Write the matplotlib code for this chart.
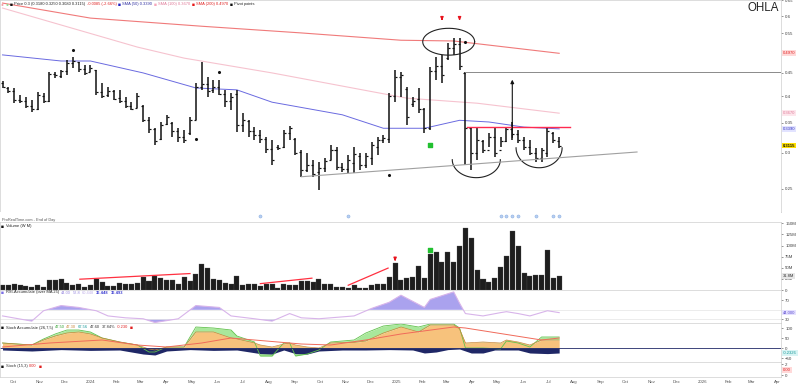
import numpy as np
import pandas as pd
import matplotlib
matplotlib.use("Agg")
import matplotlib.pyplot as plt
import matplotlib.dates as mdates
from matplotlib.ticker import FixedLocator, NullLocator, FuncFormatter

plt.rcParams['font.family'] = ['Liberation Sans', 'DejaVu Sans']

# ---------------- data (weekly bars) ----------------
first_week = "2023-09-18"
n_weeks = 96

open_ = [0.428,0.417,0.410,0.392,0.390,0.380,0.375,0.400,0.390,0.448,
         0.444,0.455,0.472,0.475,0.458,0.452,0.457,0.408,0.402,0.410,
         0.396,0.390,0.380,0.377,0.380,0.355,0.338,0.322,0.347,0.350,
         0.335,0.325,0.332,0.355,0.420,0.425,0.412,0.420,0.405,0.390,
         0.405,0.345,0.352,0.335,0.328,0.322,0.306,0.310,0.310,0.332,
         0.322,0.302,0.275,0.282,0.272,0.278,0.290,0.305,0.280,0.276,
         0.285,0.296,0.282,0.292,0.310,0.320,0.322,0.400,0.440,0.415,
         0.385,0.395,0.375,0.340,0.455,0.465,0.485,0.510,0.520,0.450,
         0.340,0.300,0.318,0.305,0.325,0.305,0.318,0.338,0.330,0.320,
         0.310,0.300,0.292,0.300,0.332,0.318]
high = [0.432,0.419,0.417,0.402,0.398,0.392,0.408,0.406,0.452,0.452,
        0.457,0.480,0.488,0.475,0.468,0.468,0.457,0.427,0.419,0.413,
        0.413,0.398,0.388,0.406,0.382,0.360,0.340,0.351,0.364,0.351,
        0.340,0.337,0.360,0.427,0.475,0.441,0.434,0.434,0.413,0.406,
        0.413,0.367,0.354,0.342,0.337,0.325,0.320,0.312,0.337,0.344,
        0.324,0.305,0.300,0.290,0.287,0.292,0.312,0.309,0.285,0.297,
        0.309,0.300,0.300,0.317,0.325,0.329,0.406,0.457,0.452,0.419,
        0.398,0.417,0.377,0.463,0.488,0.493,0.523,0.537,0.537,0.452,
        0.342,0.342,0.320,0.332,0.342,0.325,0.342,0.351,0.337,0.325,
        0.320,0.308,0.308,0.342,0.334,0.325]
low = [0.417,0.406,0.386,0.386,0.377,0.369,0.373,0.386,0.388,0.438,
       0.438,0.445,0.461,0.452,0.445,0.452,0.402,0.396,0.398,0.392,
       0.386,0.377,0.373,0.377,0.351,0.332,0.312,0.320,0.346,0.325,
       0.317,0.316,0.329,0.354,0.413,0.398,0.406,0.402,0.379,0.373,
       0.334,0.334,0.325,0.320,0.316,0.300,0.282,0.305,0.308,0.320,
       0.297,0.266,0.272,0.266,0.249,0.272,0.290,0.275,0.272,0.271,
       0.271,0.275,0.278,0.282,0.297,0.316,0.316,0.388,0.398,0.346,
       0.379,0.367,0.332,0.337,0.434,0.427,0.480,0.493,0.457,0.282,
       0.275,0.290,0.300,0.309,0.294,0.309,0.317,0.320,0.316,0.305,
       0.297,0.287,0.287,0.294,0.316,0.308]
close = [0.420,0.410,0.392,0.390,0.380,0.374,0.402,0.390,0.448,0.445,
         0.455,0.472,0.478,0.458,0.450,0.462,0.408,0.400,0.410,0.395,
         0.390,0.380,0.375,0.400,0.355,0.338,0.318,0.345,0.360,0.335,
         0.325,0.320,0.355,0.420,0.425,0.410,0.420,0.405,0.390,0.398,
         0.345,0.355,0.335,0.328,0.322,0.306,0.290,0.308,0.332,0.340,
         0.300,0.275,0.282,0.270,0.278,0.288,0.305,0.280,0.276,0.290,
         0.298,0.282,0.295,0.312,0.320,0.324,0.400,0.440,0.445,0.360,
         0.390,0.375,0.340,0.455,0.465,0.445,0.510,0.520,0.465,0.340,
         0.300,0.320,0.305,0.325,0.300,0.318,0.338,0.330,0.320,0.310,
         0.300,0.292,0.305,0.335,0.320,0.3115]
volume_m = [10.7,10.7,12.9,10.7,9.1,7.5,10.7,6.8,22.7,22.7,
            25.7,15.2,12.0,12.9,7.5,10.7,24.3,18.2,9.1,9.1,
            16.6,12.9,12.9,16.6,29.5,20.4,31.8,27.2,22.0,22.0,
            12.9,29.5,20.4,35.6,58.3,49.9,24.3,22.7,16.6,14.3,
            31.1,11.4,14.3,12.9,9.1,14.3,14.3,4.5,12.9,11.4,
            10.7,20.4,20.4,18.2,25.7,12.9,12.9,6.8,6.1,3.9,
            11.4,5.2,5.2,11.4,13.6,13.6,29.5,61.3,22.7,26.6,
            29.5,52.9,27.9,81.0,86.3,63.6,86.3,62.0,99.9,139.2,
            116.5,45.4,24.3,18.8,26.6,52.2,77.2,131.7,98.3,37.9,
            31.8,34.1,34.1,90.1,27.9,31.8]

# moving averages read at selected weeks
ma50_idx = [0, 10, 15, 24, 33, 40, 46, 58, 65, 72, 78, 83, 89, 95]
ma50_val = [0.493, 0.478, 0.478, 0.450, 0.417, 0.413, 0.388, 0.364, 0.340, 0.340, 0.354, 0.351, 0.342, 0.339]
ma100_idx = [0, 23, 31, 46, 69, 81, 95]
ma100_val = [0.625, 0.513, 0.485, 0.450, 0.396, 0.386, 0.367]
ma200_idx = [0, 15, 34, 51, 68, 77, 95]
ma200_val = [0.641, 0.594, 0.570, 0.551, 0.531, 0.529, 0.497]

pivot_idx = [12, 33, 37, 66, 79]
pivot_val = [0.505, 0.322, 0.452, 0.268, 0.527]
sell_idx = [75, 78]
buy_idx = [73]
event_idx = [44, 59, 85, 86, 87, 88, 91, 94, 95]

rsi_idx = [0,5,7,10,13,16,18,21,24,26,30,33,37,39,43,46,49,51,54,56,60,63,66,68,72,73,77,78,79,82,85,86,88,90,93,95]
rsi_val = [37,26,48,59,55,48,37,33,31,23,31,59,55,37,31,26,42,33,31,33,37,53,66,81,55,72,88,64,42,37,44,46,42,37,48,44]

stk_idx = [0,5,7,9,11,13,15,17,20,23,25,26,28,31,33,36,39,40,43,44,46,48,49,50,52,54,56,60,62,65,68,71,73,77,78,79,82,85,86,88,90,92,95]
stk_main = [25,15,40,60,75,80,70,50,30,15,-5,-10,5,5,80,80,50,45,25,15,5,20,25,15,5,0,25,28,35,75,105,80,115,115,95,25,30,25,40,30,15,40,40]
stk_green = [25,15,45,70,90,90,80,50,30,15,-20,-20,5,5,105,100,90,60,30,-40,-40,25,25,-40,-30,-10,30,40,75,110,120,105,120,120,100,0,0,-5,35,25,5,55,55]
sig_idx = [0,8,17,23,28,34,39,51,56,62,68,77,79,92,95]
sig_val = [5,25,40,15,5,25,50,20,15,40,70,105,100,40,50]
nav_idx = [0,5,10,15,20,24,26,28,32,36,40,44,46,48,50,52,54,58,62,66,70,72,74,76,78,80,82,84,88,90,93,95]
nav_val = [-10,-15,-8,-12,-10,-30,-35,-15,-8,-12,-10,-28,-30,-10,-28,-30,-15,-10,-10,-8,-10,-25,-20,-8,-5,-25,-25,-10,-10,-25,-28,-25]

# drawn annotations (chartist drawings)
ellipse_center = ("2025-03-04", 0.527); ellipse_half_days = 31; ellipse_half_log = 0.068
cup1 = ("2025-04-06", 0.290, 28.7, 0.091)
cup2 = ("2025-06-20", 0.308, 27.5, 0.101)
support_line = (("2024-09-09", 0.266), ("2025-10-15", 0.3015))
resistance = ("2025-03-26", "2025-07-27", 0.343)
target_level = ("2025-03-24", 0.452)
target_arrow = ("2025-05-19", 0.320, 0.441)
vol_trends = [((13.2, 24.3), (32, 37.0)), ((44, 14.3), (52.8, 26.6)), ((59, 10.7), (65.8, 49.3))]

# ---------------- figure ----------------
W, H, DPI = 799, 387, 100
fig = plt.figure(figsize=(W / DPI, H / DPI), dpi=DPI)
fig.patch.set_facecolor('white')
renderer = fig.canvas.get_renderer()

def px_axes(x0, y0, x1, y1):
    return fig.add_axes([x0 / W, 1 - y1 / H, (x1 - x0) / W, (y1 - y0) / H])

def seq_text(x, y, pieces, size=2.9, gap=1.8):
    cur = x
    for item in pieces:
        s, c = item[0], item[1]
        kw = item[2] if len(item) > 2 else {}
        fs = size + 0.6 if s == '■' or s == '●' else size
        t = fig.text(cur / W, 1 - y / H, s, color=c, fontsize=fs, va='center', ha='left', **kw)
        bb = t.get_window_extent(renderer=renderer)
        cur += bb.width + gap

AXR = 781
ax_p = px_axes(0, 0, AXR, 212)
ax_s = px_axes(0, 212, AXR, 222)
ax_v = px_axes(0, 222, AXR, 290)
ax_r = px_axes(0, 290, AXR, 323)
ax_k = px_axes(0, 323, AXR, 362)
ax_b = px_axes(0, 362, AXR, 377)
axes = [ax_p, ax_s, ax_v, ax_r, ax_k, ax_b]

dates = pd.date_range(first_week, periods=n_weeks, freq="7D")
x = mdates.date2num(dates)
x0num = x[0]
def xi(i):
    return x0num + 7 * np.asarray(i, dtype=float)
def xd(s):
    return mdates.date2num(pd.Timestamp(s))

xmin, xmax = xd("2023-09-15"), xd("2026-04-05")
for a in axes:
    a.set_xlim(xmin, xmax)
    a.set_facecolor('white')
    for sp in a.spines.values():
        sp.set_color('#cfcfcf'); sp.set_linewidth(0.5)
    a.tick_params(axis='x', bottom=False, labelbottom=False)
    a.yaxis.tick_right()
    a.tick_params(axis='y', labelsize=3.2, length=1.5, width=0.4, pad=1.5, colors='#444444')

# ---- price panel ----
ax_p.set_yscale('log')
ax_p.set_ylim(0.2225, 0.651)
ax_p.yaxis.set_major_locator(FixedLocator([0.25, 0.3, 0.35, 0.4, 0.45, 0.55, 0.6, 0.65]))
ax_p.yaxis.set_minor_locator(NullLocator())
ax_p.yaxis.set_major_formatter(FuncFormatter(lambda v, p: f"{v:g}"))

ax_p.plot(xi(ma200_idx), ma200_val, color='#f07a7a', lw=0.8)
ax_p.plot(xi(ma100_idx), ma100_val, color='#f6c3cf', lw=0.8)
ax_p.plot(xi(ma50_idx), ma50_val, color='#6a6ae0', lw=0.7)

bar_c = '#111111'
ax_p.vlines(x, low, high, color=bar_c, lw=1.1)
ax_p.hlines(open_, x - 2.4, x, color=bar_c, lw=0.85)
ax_p.hlines(close, x, x + 2.4, color=bar_c, lw=0.85)

ax_p.scatter(xi(pivot_idx), pivot_val, s=1.5, color='#111111', zorder=5)
for i in sell_idx:
    ax_p.annotate('', xy=(xi(i), 0.579), xytext=(xi(i), 0.602),
                  arrowprops=dict(arrowstyle='-|>', color='#e8141e', lw=1.0, mutation_scale=4))
ax_p.scatter(xi(buy_idx), [0.312], s=5, marker='s', color='#22c030', zorder=5)

# ellipse
t = np.linspace(0, 2 * np.pi, 200)
ecx = xd(ellipse_center[0])
ax_p.plot(ecx + ellipse_half_days * np.cos(t), ellipse_center[1] * np.exp(ellipse_half_log * np.sin(t)),
          color='#222222', lw=0.8)
# cups
tt = np.linspace(np.pi, 2 * np.pi, 100)
for c in (cup1, cup2):
    cx = xd(c[0])
    ax_p.plot(cx + c[2] * np.cos(tt), c[1] * np.exp(c[3] * np.sin(tt)), color='#222222', lw=0.8)
# support
(sa, pa), (sb, pb) = support_line
ax_p.plot([xd(sa), xd(sb)], [pa, pb], color='#a0a0a0', lw=0.8)
# resistance
ax_p.plot([xd(resistance[0]), xd(resistance[1])], [resistance[2]] * 2, color='#ff2a50', lw=1.0)
# target level & arrow
ax_p.plot([xd(target_level[0]), xmax], [target_level[1]] * 2, color='#8a8a8a', lw=0.7)
ax_p.annotate('', xy=(xd(target_arrow[0]), target_arrow[2]), xytext=(xd(target_arrow[0]), target_arrow[1]),
              arrowprops=dict(arrowstyle='-|>', color='#111111', lw=0.8, mutation_scale=5))

def vbox(ax, val, txt, fc, tc, bold=False):
    ax.annotate(txt, xy=(1.0, val), xycoords=('axes fraction', 'data'), xytext=(1.5, 0),
                textcoords='offset points', fontsize=3.0, color=tc, va='center', ha='left',
                fontweight='bold' if bold else 'normal',
                bbox=dict(boxstyle='square,pad=0.2', fc=fc, ec='none'), annotation_clip=False, zorder=10)

vbox(ax_p, ma200_val[-1], f"{ma200_val[-1]:.4f}", '#ffd9d9', '#e02020')
vbox(ax_p, ma100_val[-1], f"{ma100_val[-1]:.4f}", '#fde6ec', '#e07a98')
vbox(ax_p, ma50_val[-1], f"{ma50_val[-1]:.4f}", '#e2e3ff', '#3030c0')
vbox(ax_p, close[-1], f"{close[-1]:.4f}", '#ffe000', '#111111', bold=True)

ax_p.text(0.997, 0.962, "OHLA", transform=ax_p.transAxes, ha='right', va='center', fontsize=8.3, color='#222222')

# legend row
chg = close[-1] - close[-2]
pct = chg / close[-2] * 100
seq_text(1, 4.5, [
    ('●', '#f2a0a8'), ('●', '#8fd88f'), ('■', '#111111'),
    (f"Price 0.3 ({open_[-1]:.4f} {high[-1]:.4f} {low[-1]:.4f} {close[-1]:.4f})", '#222222'),
    (f"{chg:+.4f} ({pct:+.2f}%)", '#e02020'),
    ('■', '#2020c0'), (f"SMA (50) {ma50_val[-1]:.4f}", '#3030a0'),
    ('■', '#f6a8bc'), (f"SMA (100) {ma100_val[-1]:.4f}", '#e07a98'),
    ('■', '#e81818'), (f"SMA (200) {ma200_val[-1]:.4f}", '#e02020'),
    ('■', '#111111'), ("Pivot points", '#222222'),
], gap=1.4)

# ---- strip with events ----
ax_s.set_ylim(0, 1)
ax_s.set_yticks([])
for sp in ax_s.spines.values():
    sp.set_visible(False)
ax_s.scatter(xi(event_idx), [0.62] * len(event_idx), s=5, color='#b8d0f2', edgecolor='#7fa4dc', lw=0.3)
seq_text(2, 219.5, [("ProRealTime.com - End of Day", '#555555')], size=2.8)

# ---- volume ----
ax_v.bar(x, volume_m, width=6.0, color='#1e1e1e', edgecolor='#555555', linewidth=0.2)
ax_v.set_ylim(0, 153)
ax_v.yaxis.set_major_locator(FixedLocator([0, 25, 50, 75, 100, 125, 150]))
ax_v.yaxis.set_major_formatter(FuncFormatter(lambda v, p: "0" if v == 0 else f"{v:.0f}M"))
for (i1, v1), (i2, v2) in vol_trends:
    ax_v.plot([xi(i1), xi(i2)], [v1, v2], color='#ff3040', lw=0.9)
ax_v.annotate('', xy=(xi(67), volume_m[67] + 4), xytext=(xi(67), volume_m[67] + 15),
              arrowprops=dict(arrowstyle='-|>', color='#e8141e', lw=1.0, mutation_scale=4))
ax_v.scatter(xi(buy_idx), [volume_m[73] + 8], s=5, marker='s', color='#22c030', zorder=5)
vbox(ax_v, volume_m[-1], f"{volume_m[-1]:.1f}M", '#e6e6e6', '#333333')
seq_text(1, 226, [('■', '#111111'), ("Volume (W M)", '#222222')])

# ---- RSI accumulate ----
rx = xi(rsi_idx)
rv = np.array(rsi_val, dtype=float)
ax_r.set_ylim(22, 92)
ax_r.axhline(50, color='#e4e4e4', lw=0.5)
ax_r.axhline(30, color='#e4e4e4', lw=0.5)
ax_r.fill_between(rx, rv, 50, where=rv > 50, interpolate=True, color='#aaa2ee', lw=0)
ax_r.fill_between(rx, rv, 30, where=rv < 30, interpolate=True, color='#aaa2ee', lw=0)
ax_r.plot(rx, rv, color='#d8b4ea', lw=0.8)
ax_r.yaxis.set_major_locator(FixedLocator([30, 70]))
vbox(ax_r, rsi_val[-1], f"{rsi_val[-1]:.3f}", '#e6e2ff', '#5a4ad0')
seq_text(1, 292.5, [('■', '#7b6ee6'), ("RSI-Accumulate (over MA 25)", '#222222'),
                    (f"{rsi_val[-1]:.2f}", '#9a8ae0'), ("52.8", '#9a8ae0'), ("60.448", '#c0b0e8'),
                    ("36.448", '#3a3ad0', {'fontweight': 'bold'}), ("36.493", '#3a3ad0', {'fontweight': 'bold'})])

# ---- stochastic accumulate ----
kx = xi(stk_idx)
km = np.array(stk_main, dtype=float)
kg = np.array(stk_green, dtype=float)
ax_k.set_ylim(-70, 125)
ax_k.fill_between(kx, kg, km, color='#a9e89b', lw=0)
ax_k.plot(kx, kg, color='#62c24e', lw=0.6)
ax_k.fill_between(kx, 0, km, color='#f7c27c', lw=0)
ax_k.plot(kx, km, color='#c9863a', lw=0.5)
ax_k.plot(xi(sig_idx), sig_val, color='#f06a5a', lw=0.7)
ax_k.fill_between(xi(nav_idx), 0, nav_val, color='#1f2766', lw=0)
ax_k.axhline(0, color='#1f2766', lw=0.6)
ax_k.yaxis.set_major_locator(FixedLocator([-50, 0, 50, 100]))
vbox(ax_k, nav_val[-1], "-0.2326", '#d8f4f4', '#1a9a9a')
seq_text(1, 327.5, [('■', '#111111'), ("Stoch Accumulate (26,7,5)", '#222222'),
                    ("47.50", '#30a030'), ("47.30", '#c9863a'), ("67.56", '#1a9a9a'),
                    ("47.60", '#333333'), ("37.84%", '#333333'), ("-0.230", '#e02020'), ('■', '#e02020')])

# ---- bottom stochastic ----
ax_b.set_ylim(-0.3, 2.4)
ax_b.yaxis.set_major_locator(FixedLocator([0, 2]))
vbox(ax_b, 1.0, "0.00", '#ffd9d9', '#e02020')
seq_text(1, 366, [('■', '#111111'), ("Stoch (15,3)", '#333333'), ("0.00", '#e02020'), ('■', '#e02020')])

# x axis on bottom panel
ax_b.xaxis.set_major_locator(mdates.MonthLocator())
ax_b.xaxis.set_major_formatter(FuncFormatter(
    lambda v, p: (str(mdates.num2date(v).year) if mdates.num2date(v).month == 1 else mdates.num2date(v).strftime('%b'))))
ax_b.tick_params(axis='x', bottom=True, labelbottom=True, length=0, labelsize=3.2, pad=2.5, colors='#555555')

fig.savefig("out.png", dpi=DPI, facecolor='white')
